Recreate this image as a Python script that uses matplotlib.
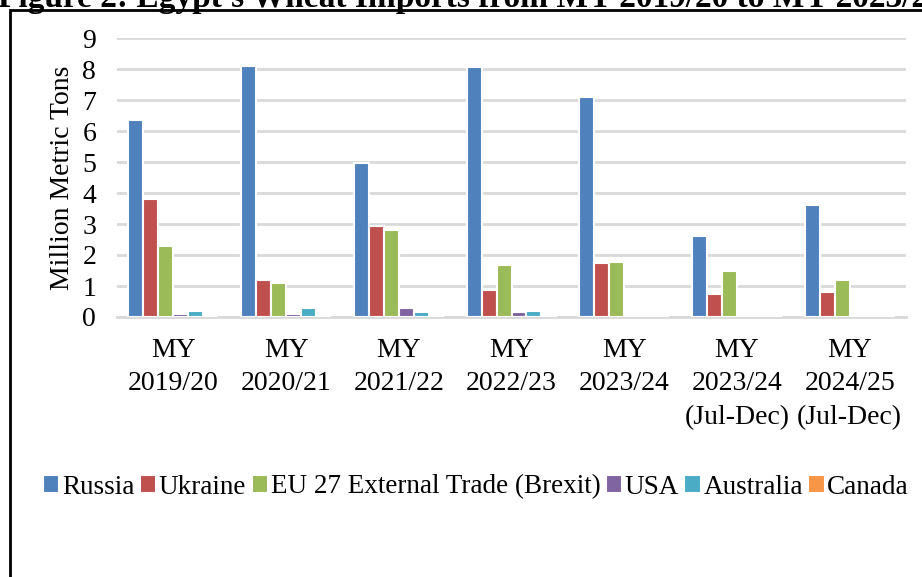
import matplotlib.pyplot as plt
from matplotlib.patches import Rectangle
import numpy as np

plt.rcParams['font.family'] = ['Liberation Serif', 'DejaVu Serif']

# categories (marketing years)
years = ['MY\n2019/20', 'MY\n2020/21', 'MY\n2021/22', 'MY\n2022/23', 'MY\n2023/24',
         'MY\n2023/24\n(Jul-Dec)', 'MY\n2024/25\n(Jul-Dec)']

# million metric tons
russia = [6.37, 8.1, 4.97, 8.08, 7.1, 2.6, 3.6]
ukraine = [3.8, 1.2, 2.94, 0.88, 1.74, 0.73, 0.8]
eu27 = [2.3, 1.1, 2.8, 1.68, 1.78, 1.48, 1.2]
usa = [0.1, 0.1, 0.3, 0.15, 0.05, 0.0, 0.05]
australia = [0.19, 0.3, 0.17, 0.19, 0.0, 0.0, 0.0]
canada = [0.01, 0.0, 0.0, 0.05, 0.01, 0.01, 0.0]

series = [('Russia', russia, '#4F81BD'),
          ('Ukraine', ukraine, '#C0504D'),
          ('EU 27 External Trade (Brexit)', eu27, '#9BBB59'),
          ('USA', usa, '#8064A2'),
          ('Australia', australia, '#4BACC6'),
          ('Canada', canada, '#F79646')]

fig = plt.figure(figsize=(9.22, 5.77), dpi=100)
ax = fig.add_axes([117/922, 1-317/577, 789/922, 279/577])

x = np.arange(len(years))
step = 0.133
for i, (name, vals, col) in enumerate(series):
    ax.bar(x + (i - 2.5)*step, vals, width=step, color=col, label=name,
           edgecolor='white', linewidth=1.5, zorder=3)

ax.set_xlim(-0.5, len(years) - 0.5)
ax.set_ylim(0, 9)
ax.set_yticks(range(0, 10))
ax.set_xticks(x)
ax.set_xticklabels(years, linespacing=1.45, va='top')
ax.tick_params(axis='both', length=0, labelsize=20)
ax.tick_params(axis='y', pad=15)
ax.tick_params(axis='x', pad=15)
ax.yaxis.grid(True, color='#d9d9d9', linewidth=2, zorder=0)
for s in ['top', 'right', 'left']:
    ax.spines[s].set_visible(False)
ax.spines['bottom'].set_color('#d9d9d9')
ax.spines['bottom'].set_linewidth(2)
ax.set_ylabel('Million Metric Tons', fontsize=20, labelpad=5)

fig.legend(loc='center', bbox_to_anchor=(476/922, 1-487/577), ncol=6, frameon=False,
           fontsize=19.5, handlelength=0.6, handleheight=0.6, handletextpad=0.1,
           columnspacing=0.2, borderpad=0)

# frame around the chart and the cut-off caption above it
fig.patches.append(Rectangle((10/922, -0.1), 1.2, 1.1 - 10/577, transform=fig.transFigure,
                             fill=False, edgecolor='black', linewidth=2, clip_on=False))
fig.text(-2/922, 1 - 7/577, "Figure 2: Egypt's Wheat Imports from MY 2019/20 to MY 2023/24",
         fontsize=24, fontweight='bold', ha='left', va='baseline')

fig.savefig('out.png', dpi=100)
